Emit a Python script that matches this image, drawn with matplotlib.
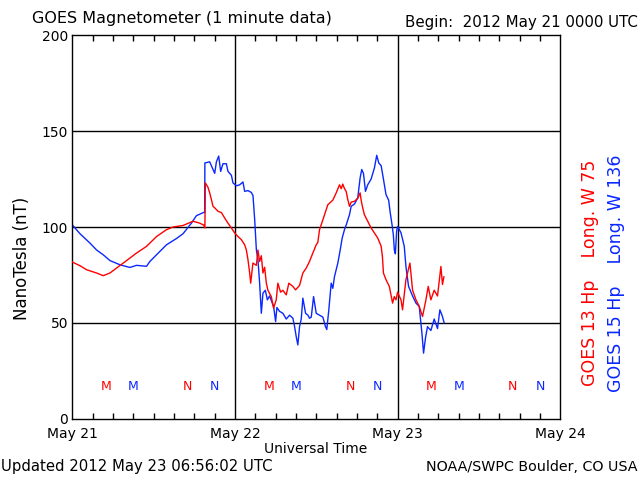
import matplotlib
matplotlib.use("Agg")
import matplotlib.pyplot as plt
import numpy as np

# hours since 2012 May 21 00:00 UTC
g15_hours = [0.0, 1.12, 2.59, 3.57, 4.55, 5.54, 7.01, 8.48, 9.46, 10.94, 11.43, 12.41,
             13.88, 15.36, 16.33, 17.56, 18.30, 19.38, 19.52, 19.55, 20.26, 21.0, 21.25,
             21.59, 21.88, 22.22, 22.72, 22.96, 23.46, 23.70, 24.2, 24.69, 25.17, 25.42,
             25.91, 26.41, 26.65, 26.90, 27.15, 27.38, 27.63, 27.88, 28.12, 28.47, 28.77,
             29.1, 29.69, 29.99, 30.18, 30.57, 31.06, 31.56, 32.05, 32.54, 32.79, 33.03,
             33.27, 33.52, 33.77, 34.01, 34.41, 34.75, 35.0, 35.25, 35.59, 35.98, 36.47,
             36.96, 37.35, 37.54, 37.84, 38.19, 38.43, 38.68, 39.17, 39.52, 39.81, 40.15,
             40.40, 40.89, 41.14, 41.63, 42.11, 42.46, 42.70, 42.95, 43.25, 43.58, 44.08,
             44.57, 44.91, 45.21, 45.56, 45.79, 46.04, 46.28, 46.67, 46.88, 47.17, 47.36,
             47.51, 47.66, 47.85, 48.0, 48.49, 48.97, 49.22, 49.61, 50.2, 50.70, 51.18,
             51.58, 51.82, 52.1, 52.40, 52.90, 53.39, 53.88, 54.23, 54.61, 54.86]
g15_values = [101, 96.5, 91.6, 88, 85.5, 82.5, 80.3, 78.9, 80, 79.5, 82, 85.5,
              90.7, 94, 96.5, 102, 105.9, 107.6, 107.6, 133.4, 134, 128, 134,
              137, 129, 133, 133, 129, 127, 123, 121.5, 122, 123.5, 118.6,
              119, 118, 116.4, 103.8, 88, 83, 70.7, 55, 65.5, 67, 62,
              64, 58.5, 50.7, 58, 56, 55, 52, 54, 52.4, 48, 42.8,
              38.5, 48, 52, 62.9, 55, 54, 52.4, 53, 63.7, 55, 54,
              53, 48, 46.5, 56.8, 70.7, 68, 74.2, 81.2, 88, 94.2, 98.6,
              101, 106.4, 110.8, 112, 115.2, 125.6, 130, 128, 118.6, 122, 125,
              130.8, 137.4, 133.4, 132, 127.3, 122, 116.9, 114, 108, 101.2, 96,
              88, 86, 98, 100.3, 97, 90, 79.4, 69, 64, 60.3, 58.6,
              44.6, 34.2, 42, 48, 46, 52, 47, 56.8, 53.3, 50]

g13_hours = [0.0, 1.12, 2.1, 3.57, 4.55, 5.54, 6.52, 8.0, 9.46, 10.94, 12.41, 13.88,
             14.86, 16.33, 17.8, 18.79, 19.38, 19.55, 19.62, 20.01, 20.26, 20.51, 20.75,
             21.0, 21.49, 21.99, 22.47, 22.96, 23.46, 23.95, 24.44, 24.93, 25.42, 25.67,
             25.91, 26.16, 26.31, 26.64, 27.15, 27.38, 27.63, 27.88, 28.12, 28.37, 28.62,
             28.85, 29.35, 29.69, 30.08, 30.32, 30.72, 31.06, 31.56, 31.94, 32.54, 32.93,
             33.52, 34.01, 34.51, 34.99, 35.48, 35.98, 36.22, 36.47, 36.72, 37.21, 37.69,
             38.43, 38.93, 39.42, 39.67, 39.9, 40.15, 40.40, 40.64, 40.89, 41.14, 41.63,
             42.11, 42.46, 42.61, 42.84, 43.09, 43.58, 44.08, 44.57, 45.06, 45.56, 45.75,
             45.9, 46.28, 46.77, 47.25, 47.5, 47.75, 47.99, 48.49, 48.72, 49.22, 49.81,
             50.2, 50.70, 51.18, 51.67, 52.17, 52.51, 52.90, 53.39, 53.88, 54.38, 54.61,
             54.82]
g13_values = [81.7, 79.8, 77.7, 76, 74.6, 76, 78.6, 82.5, 86.4, 89.9, 95, 98.6,
              100, 100.8, 103, 102, 101, 99.5, 123, 120.7, 117.8, 114.3, 110.8,
              110, 108.2, 107.5, 104.7, 102, 99.5, 96.9, 95, 93.4, 90.7, 88,
              82.9, 76, 70.7, 81.2, 80, 88, 82, 85, 76, 79, 70.7,
              67, 63.7, 57.7, 62, 70.7, 66, 67, 64.6, 70.7, 69, 67.2,
              69.5, 76, 78.6, 82, 86.4, 90.7, 92, 98.6, 101.2, 106.4, 111.6,
              114, 117.8, 122, 120, 122.4, 120, 118.6, 114.3, 110.8, 113, 113.4,
              115, 117.8, 114, 110, 106.4, 103, 99.5, 96.9, 94.2, 90, 84.6,
              76, 72.5, 69, 60.3, 63.7, 62, 66, 62, 56.8, 72.5, 81.2,
              67, 62, 58.6, 53.3, 62, 69, 62, 67, 64, 79.4, 70,
              74]

# local midnight (M) / noon (N) marker times, hours
g13_m = [5, 29, 53]
g15_m = [9, 33, 57]
g13_n = [17, 41, 65]
g15_n = [21, 45, 69]

day_labels = ["May 21", "May 22", "May 23", "May 24"]
y_ticks = [0, 50, 100, 150, 200]

RED = "#ff0000"
BLUE = "#0a28ff"

fig = plt.figure(figsize=(6.4, 4.8), dpi=100)
ax = fig.add_axes([72.4 / 640, 1 - 418.7 / 480, (560.3 - 72.4) / 640, (418.7 - 35.3) / 480])

ax.set_xlim(0, 72)
ax.set_ylim(0, 200)

for v in [50, 100, 150]:
    ax.axhline(v, color="black", lw=1.0, zorder=1)
for d in [24, 48]:
    ax.axvline(d, color="black", lw=1.0, zorder=1)

ax.plot(g15_hours, g15_values, color=BLUE, lw=1.0, zorder=2)
ax.plot(g13_hours, g13_values, color=RED, lw=1.0, zorder=3)

for h in g13_m:
    ax.text(h, 17, "M", color=RED, ha="center", va="center", fontsize=9)
for h in g15_m:
    ax.text(h, 17, "M", color=BLUE, ha="center", va="center", fontsize=9)
for h in g13_n:
    ax.text(h, 17, "N", color=RED, ha="center", va="center", fontsize=9)
for h in g15_n:
    ax.text(h, 17, "N", color=BLUE, ha="center", va="center", fontsize=9)

ax.set_xticks([0, 24, 48, 72])
ax.set_xticklabels(day_labels, fontsize=10)
ax.set_xticks(np.arange(0, 73, 3), minor=True)
ax.tick_params(axis="x", which="major", length=0, pad=6)
ax.tick_params(axis="x", which="minor", direction="in", length=4, top=True, bottom=True, width=1)
ax.set_yticks(y_ticks)
ax.set_yticklabels([str(v) for v in y_ticks], fontsize=10)
ax.tick_params(axis="y", which="major", length=0, pad=3)
for s in ax.spines.values():
    s.set_linewidth(1.0)

fig.text(32 / 640, 1 - 18 / 480, "GOES Magnetometer (1 minute data)", fontsize=11.5, va="center", ha="left")
fig.text(638 / 640, 1 - 22 / 480, "Begin:  2012 May 21 0000 UTC", fontsize=10.8, va="center", ha="right")
fig.text(22 / 640, 1 - 258 / 480, "NanoTesla (nT)", fontsize=12, rotation=90, va="center", ha="center")
fig.text(316 / 640, 1 - 449 / 480, "Universal Time", fontsize=10, va="center", ha="center")
fig.text(1 / 640, 1 - 467 / 480, "Updated 2012 May 23 06:56:02 UTC", fontsize=10.7, va="center", ha="left")
fig.text(638 / 640, 1 - 467 / 480, "NOAA/SWPC Boulder, CO USA", fontsize=10.3, va="center", ha="right")
fig.text(590 / 640, 1 - 273 / 480, "GOES 13 Hp    Long. W 75", fontsize=12.5, rotation=90,
         va="center", ha="center", color=RED)
fig.text(616 / 640, 1 - 273 / 480, "GOES 15 Hp    Long. W 136", fontsize=12.5, rotation=90,
         va="center", ha="center", color=BLUE)

fig.savefig("out.png", dpi=100)
